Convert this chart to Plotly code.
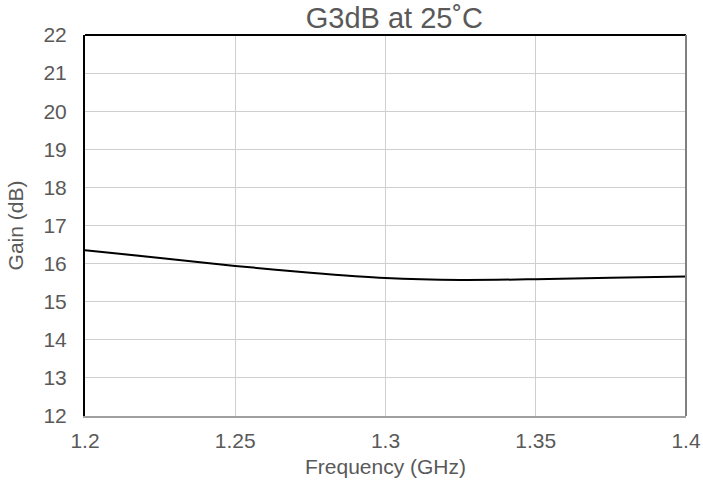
import plotly.graph_objects as go

freq_ghz = [1.2, 1.225, 1.25, 1.275, 1.3, 1.325, 1.35, 1.375, 1.4]
gain_db = [16.35, 16.15, 15.94, 15.76, 15.62, 15.57, 15.59, 15.63, 15.66]

x_ticks = [1.2, 1.25, 1.3, 1.35, 1.4]
x_tick_labels = ["1.2", "1.25", "1.3", "1.35", "1.4"]
y_ticks = list(range(12, 23))

gray = "#595959"
font_family = "Liberation Sans, Arial, sans-serif"

fig = go.Figure()
fig.add_trace(go.Scatter(
    x=freq_ghz, y=gain_db, mode="lines",
    line=dict(color="black", width=2, shape="spline", smoothing=0.8),
    showlegend=False, hoverinfo="skip",
))

fig.update_layout(
    width=703, height=486,
    margin=dict(l=85, r=17, t=35, b=70),
    paper_bgcolor="white", plot_bgcolor="white",
    font=dict(family=font_family, color=gray, size=21),
    title=dict(text="G3dB at 25˚C", x=0.561, xanchor="center", xref="container",
               y=0.963, yanchor="middle", yref="container", automargin=False,
               font=dict(size=29, color=gray, family=font_family)),
    xaxis=dict(
        range=[1.2, 1.4], tickvals=x_ticks, ticktext=x_tick_labels,
        showgrid=True, gridcolor="#cfcfcf", gridwidth=1,
        showline=True, linecolor="#a0a0a0", linewidth=2,
        ticks="", ticklabelstandoff=5, zeroline=False, automargin=False,
        title=dict(text="Frequency (GHz)", standoff=8, font=dict(size=21, color=gray)),
        tickfont=dict(size=21, color=gray),
    ),
    yaxis=dict(
        range=[12, 22], tickvals=y_ticks,
        showgrid=True, gridcolor="#cfcfcf", gridwidth=1,
        showline=True, linecolor="black", linewidth=2,
        ticks="", ticklabelstandoff=12, zeroline=False, automargin=False,
        title=dict(text="Gain (dB)", standoff=14, font=dict(size=21, color=gray)),
        tickfont=dict(size=21, color=gray),
    ),
    shapes=[
        dict(type="line", xref="paper", yref="paper", x0=0, x1=1, y0=1, y1=1,
             line=dict(color="black", width=2)),
        dict(type="line", xref="paper", yref="paper", x0=1, x1=1, y0=0, y1=1,
             line=dict(color="#808080", width=2)),
    ],
)

fig.write_html("out.html", config={"displayModeBar": False, "staticPlot": True},
               post_script="document.body.style.margin='0';document.body.style.overflow='hidden';")
